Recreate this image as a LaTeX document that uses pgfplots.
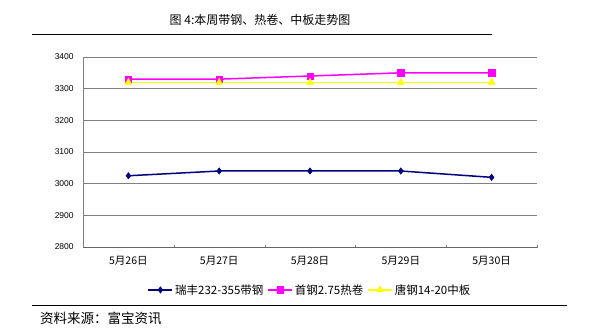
\documentclass[border=0pt]{standalone}
\usepackage{fontspec}
\setmainfont{Noto Sans CJK SC}
\newfontfamily\lsans{Liberation Sans}
\usepackage{pgfplots}
\pgfplotsset{compat=1.18}
\definecolor{navyb}{RGB}{0,0,128}
\definecolor{magp}{RGB}{255,0,255}
\definecolor{yelw}{RGB}{255,255,0}
\definecolor{gridg}{RGB}{128,128,128}
\begin{document}
\begin{tikzpicture}[x=1pt,y=1pt]
\path (0,0) rectangle (601,329);
\node[font=\fontsize{12}{13}\selectfont] at (260,309) {图 4:本周带钢、热卷、中板走势图};
\draw[line width=0.8pt] (32,295) -- (492,295);
\draw[line width=0.8pt] (32,24) -- (567,24);
\node[font=\fontsize{13.5}{14}\selectfont, anchor=west, inner sep=0pt] at (40,11) {资料来源：富宝资讯};
\begin{axis}[
  at={(83pt,272pt)}, anchor=north west,
  width=454pt, height=190pt, scale only axis,
  xmin=0.5, xmax=5.5, ymin=2800, ymax=3400,
  ytick={2800,2900,...,3400},
  xtick={1,2,3,4,5},
  xticklabels={5月26日,5月27日,5月28日,5月29日,5月30日},
  minor xtick={1.5,2.5,3.5,4.5,5.5},
  major x tick style={draw=none},
  minor tick length=3pt,
  tick align=inside,
  axis x line=bottom, axis y line=left,
  axis line style={-, draw=gridg, line width=0.8pt},
  x axis line style={draw=gridg!80!black},
  ymajorgrids, grid style={gridg, line width=0.8pt},
  major y tick style={draw=none},
  yticklabel style={font=\lsans\fontsize{8.5}{9}\selectfont},
  xticklabel style={font=\fontsize{10.5}{11}\selectfont},
  yticklabel={\pgfmathprintnumber[assume math mode=true,1000 sep={}]{\tick}},
  tick label style={inner sep=1pt},
  xticklabel shift=6pt, yticklabel shift=6pt,
  legend style={at={(0.5,-0.226)}, anchor=center, draw=none, fill=none,
    font=\fontsize{11.5}{12}\selectfont, legend columns=3,
    /tikz/every even column/.append style={column sep=2pt}},
  legend image code/.code={\draw[#1] (0pt,0pt) -- (24pt,0pt); \draw[#1, mark repeat=2, mark phase=2] plot coordinates {(0pt,0pt) (12pt,0pt) (24pt,0pt)};},
  clip=false,
]
\addplot[navyb, line width=1.5pt, mark=diamond*, mark size=3.2pt, mark options={solid,fill=navyb,line width=0.5pt}] coordinates {(1,3025) (2,3040) (3,3040) (4,3040) (5,3020)};
\addlegendentry{瑞丰232-355带钢}
\addplot[magp, line width=1.5pt, mark=square*, mark size=3.2pt, mark options={solid,fill=magp,line width=0.5pt}] coordinates {(1,3330) (2,3330) (3,3340) (4,3350) (5,3350)};
\addlegendentry{首钢2.75热卷}
\addplot[yelw, line width=1.5pt, mark=triangle*, mark size=4pt, mark options={solid,fill=yelw,line width=0.5pt}] coordinates {(1,3320) (2,3320) (3,3320) (4,3320) (5,3320)};
\addlegendentry{唐钢14-20中板}
\end{axis}
\end{tikzpicture}
\end{document}
